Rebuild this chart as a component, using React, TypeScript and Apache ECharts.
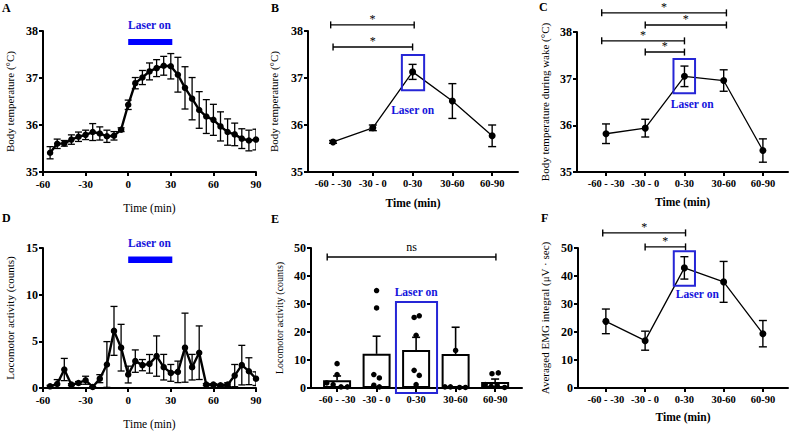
import React, { useEffect, useRef } from 'react';
import * as echarts from 'echarts';

// ---------- data ----------
const TIME = [-55, -50, -45, -40, -35, -30, -25, -20, -15, -10, -5, 0, 5, 10, 15, 20, 25, 30, 35, 40, 45, 50, 55, 60, 65, 70, 75, 80, 85, 90];
const A_TEMP = [35.41, 35.60, 35.61, 35.69, 35.75, 35.79, 35.85, 35.82, 35.76, 35.77, 35.90, 36.43, 36.89, 37.01, 37.14, 37.21, 37.26, 37.25, 37.07, 36.79, 36.56, 36.32, 36.18, 36.11, 35.97, 35.85, 35.80, 35.71, 35.67, 35.69];
const A_SEM = [0.13, 0.10, 0.06, 0.10, 0.10, 0.10, 0.18, 0.14, 0.13, 0.09, 0.04, 0.10, 0.12, 0.15, 0.18, 0.18, 0.20, 0.27, 0.37, 0.45, 0.45, 0.39, 0.36, 0.33, 0.31, 0.28, 0.24, 0.21, 0.22, 0.22];
const D_ACT = [0.18, 0.43, 1.98, 0.36, 0.54, 0.83, 0.11, 1.00, 2.52, 6.12, 4.32, 1.44, 2.88, 2.45, 2.59, 3.42, 2.23, 1.62, 1.73, 4.32, 2.23, 3.78, 0.36, 0.36, 0.29, 0.36, 1.33, 2.45, 1.80, 1.00];
const D_SEM = [0.10, 0.47, 1.19, 0.10, 0.15, 0.43, 0.05, 0.43, 2.45, 2.62, 2.50, 0.90, 1.20, 0.60, 1.00, 2.16, 1.37, 0.90, 1.15, 3.70, 1.37, 2.87, 0.10, 0.10, 0.10, 0.20, 1.19, 2.12, 1.44, 0.73];

const GROUPS = ['-60 - -30', '-30 - 0', '0-30', '30-60', '60-90'];
const B_TEMP = [35.64, 35.94, 37.13, 36.51, 35.77];
const B_SEM = [0.03, 0.06, 0.16, 0.37, 0.23];
const C_TEMP = [35.82, 35.94, 37.05, 36.96, 35.46];
const C_SEM = [0.21, 0.19, 0.22, 0.23, 0.25];
const E_MEAN = [2.8, 12.2, 13.6, 12.1, 2.1];
const E_SEM = [1.5, 6.3, 4.5, 9.6, 1.1];
const E_DOTS = [
  [8.7, 4.8, 1.8, 1.2, 0.4, 0.4],
  [34.8, 28.6, 4.8, 3.6, 1.0, 0.4],
  [25.2, 25.8, 18.8, 6.3, 4.5, 1.2],
  [13.4, 0.4, 0.4, 0.2, 0.2],
  [5.1, 5.4, 1.2, 0.6, 1.0, 0.2],
];
const F_EMG = [23.8, 16.9, 42.9, 37.9, 19.4];
const F_SEM = [4.4, 3.4, 4.0, 7.3, 4.7];

// annotations (data units)
const A_LASER = [0, 30, 37.70, 37.83, 38.13];
const D_LASER = [0, 30, 13.4, 14.1, 15.5];
const B_BRACKETS = [[-0.06, 2.04, 38.13], [0, 2, 37.66]];
const C_BRACKETS = [[-0.11, 3.07, 38.41], [1, 3.07, 38.15], [-0.11, 2, 37.81], [1, 2, 37.57]];
const E_BRACKETS = [[-0.25, 4.02, 46.8]];
const F_BRACKETS = [[-0.08, 2.03, 55.4], [1, 2.03, 50.4]];
const B_BOX = [1.73, 2.29, 36.74, 37.49, 2.0, 36.32];
const C_BOX = [1.72, 2.27, 36.69, 37.42, 2.2, 36.46];
const E_BOX = [1.49, 2.53, -1.8, 30.7, 2.0, 34.3];
const F_BOX = [1.73, 2.27, 36.5, 48.8, 2.33, 33.6];

// jitter pattern for the dots in E (layout only)
const E_JITTER = [
  [0, 0, -0.26, -0.1, 0.1, 0.26],
  [0, 0, -0.07, 0.07, -0.07, 0.07],
  [-0.05, 0.08, 0, -0.05, 0.08, 0],
  [0, -0.27, -0.13, 0.1, 0.25],
  [-0.08, 0.08, -0.25, -0.1, 0.05, 0.24],
];

// ---------- styling ----------
const FONT = "'Liberation Serif', 'Times New Roman', serif";
const BLUE_BAR = '#0000ff';
const BLUE_TEXT = '#1414dc';
const BLUE_BOX = '#2626d6';
const IDX = [0, 1, 2, 3, 4];

const errRender = (cap: number, width: number, upperOnly: boolean) => (params: any, api: any) => {
  const x = api.value(0), y = api.value(1), e = api.value(2);
  const t = api.coord([x, y + e]);
  const b = api.coord([x, upperOnly ? y : y - e]);
  const st = { stroke: '#000', lineWidth: width };
  const kids: any[] = [
    { type: 'line', shape: { x1: t[0], y1: t[1], x2: b[0], y2: b[1] }, style: st },
    { type: 'line', shape: { x1: t[0] - cap, y1: t[1], x2: t[0] + cap, y2: t[1] }, style: st },
  ];
  if (!upperOnly) kids.push({ type: 'line', shape: { x1: b[0] - cap, y1: b[1], x2: b[0] + cap, y2: b[1] }, style: st });
  return { type: 'group', children: kids };
};

const bracketRender = (label: string, fontSize: number, lift: number) => (params: any, api: any) => {
  const y = api.value(2);
  const p1 = api.coord([api.value(0), y]);
  const p2 = api.coord([api.value(1), y]);
  const st = { stroke: '#000', lineWidth: 1.4 };
  return {
    type: 'group',
    children: [
      { type: 'line', shape: { x1: p1[0], y1: p1[1], x2: p2[0], y2: p2[1] }, style: st },
      { type: 'line', shape: { x1: p1[0], y1: p1[1] - 3.5, x2: p1[0], y2: p1[1] + 3.5 }, style: st },
      { type: 'line', shape: { x1: p2[0], y1: p2[1] - 3.5, x2: p2[0], y2: p2[1] + 3.5 }, style: st },
      {
        type: 'text', x: (p1[0] + p2[0]) / 2, y: p1[1] - lift,
        style: { text: label, fill: '#000', fontFamily: FONT, fontSize, align: 'center', verticalAlign: 'middle' },
      },
    ],
  };
};

const boxRender = (params: any, api: any) => {
  const a = api.coord([api.value(0), api.value(3)]);
  const b = api.coord([api.value(1), api.value(2)]);
  const t = api.coord([api.value(4), api.value(5)]);
  return {
    type: 'group',
    children: [
      { type: 'rect', shape: { x: a[0], y: a[1], width: b[0] - a[0], height: b[1] - a[1] }, style: { fill: 'none', stroke: BLUE_BOX, lineWidth: 2 } },
      { type: 'text', x: t[0], y: t[1], style: { text: 'Laser on', fill: BLUE_TEXT, fontFamily: FONT, fontWeight: 'bold', fontSize: 11.5, align: 'center', verticalAlign: 'middle' } },
    ],
  };
};

const laserRender = (params: any, api: any) => {
  const a = api.coord([api.value(0), api.value(3)]);
  const b = api.coord([api.value(1), api.value(2)]);
  const t = api.coord([(api.value(0) + api.value(1)) / 2, api.value(4)]);
  return {
    type: 'group',
    children: [
      { type: 'rect', shape: { x: a[0], y: a[1], width: b[0] - a[0] + 1.5, height: b[1] - a[1] }, style: { fill: BLUE_BAR } },
      { type: 'text', x: t[0], y: t[1], style: { text: 'Laser on', fill: BLUE_TEXT, fontFamily: FONT, fontWeight: 'bold', fontSize: 11.5, align: 'center', verticalAlign: 'middle' } },
    ],
  };
};

const axisLine = { show: true, onZero: false, lineStyle: { color: '#000', width: 2 } };
const axisTick = { show: true, length: 4, lineStyle: { color: '#000', width: 2 } };
const tickLabel = { color: '#000', fontFamily: FONT, fontWeight: 'bold' as const, fontSize: 12 };

function timeX(grid: number) {
  return {
    type: 'value', gridIndex: grid, min: -60, max: 90, interval: 30,
    name: 'Time (min)', nameLocation: 'middle', nameGap: 30,
    nameTextStyle: { color: '#000', fontFamily: FONT, fontSize: 11.5 },
    axisLine, axisTick, splitLine: { show: false },
    axisLabel: { ...tickLabel, fontSize: 11, margin: 6 },
  };
}

function groupX(grid: number, min: number, max: number, withName: boolean, nameGap: number) {
  return {
    type: 'value', gridIndex: grid, min, max,
    name: withName ? 'Time (min)' : '', nameLocation: 'middle', nameGap,
    nameTextStyle: { color: '#000', fontFamily: FONT, fontSize: 11.5, fontWeight: 'bold' },
    axisLine, splitLine: { show: false },
    axisTick: { ...axisTick, customValues: IDX },
    axisLabel: { ...tickLabel, fontSize: 10.5, margin: 6, customValues: IDX, formatter: (v: number) => GROUPS[Math.round(v)] },
  };
}

function yAx(grid: number, min: number, max: number, interval: number, name: string, nameGap: number, nameSize: number) {
  return {
    type: 'value', gridIndex: grid, min, max, interval,
    name, nameLocation: 'middle', nameRotate: 90, nameGap,
    nameTextStyle: { color: '#000', fontFamily: FONT, fontSize: nameSize },
    axisLine, axisTick, splitLine: { show: false },
    axisLabel: { ...tickLabel, margin: 5 },
  };
}

function pointLine(ax: number, data: number[][], width: number, size: number) {
  return {
    type: 'line', xAxisIndex: ax, yAxisIndex: ax, data,
    symbol: 'circle', symbolSize: size, showSymbol: true,
    lineStyle: { color: '#000', width }, itemStyle: { color: '#000', opacity: 1 }, z: 4,
  };
}

function errSeries(ax: number, data: number[][], cap: number, width: number, upperOnly = false) {
  return { type: 'custom', xAxisIndex: ax, yAxisIndex: ax, data, renderItem: errRender(cap, width, upperOnly), clip: true, z: 3 };
}

function annSeries(ax: number, data: number[][], render: any) {
  return { type: 'custom', xAxisIndex: ax, yAxisIndex: ax, data, renderItem: render, clip: false, z: 5, silent: true };
}

function letter(text: string, left: number, top: number) {
  return { type: 'text', left, top, style: { text, fill: '#000', fontFamily: FONT, fontWeight: 'bold', fontSize: 12 } };
}

export default function App() {
  const ref = useRef<HTMLDivElement>(null);
  useEffect(() => {
    if (!ref.current) return;
    const chart = echarts.init(ref.current, undefined, { renderer: 'svg' });

    const aLine = TIME.map((t, i) => [t, A_TEMP[i]]);
    const aErr = TIME.map((t, i) => [t, A_TEMP[i], A_SEM[i]]);
    const dLine = TIME.map((t, i) => [t, D_ACT[i]]);
    const dErr = TIME.map((t, i) => [t, D_ACT[i], D_SEM[i]]);
    const bLine = IDX.map((i) => [i, B_TEMP[i]]);
    const bErr = IDX.map((i) => [i, B_TEMP[i], B_SEM[i]]);
    const cLine = IDX.map((i) => [i, C_TEMP[i]]);
    const cErr = IDX.map((i) => [i, C_TEMP[i], C_SEM[i]]);
    const eBars = IDX.map((i) => [i, E_MEAN[i]]);
    const eErr = IDX.map((i) => [i, E_MEAN[i], E_SEM[i]]);
    const eDots: number[][] = [];
    E_DOTS.forEach((vals, g) => vals.forEach((v, k) => eDots.push([g + E_JITTER[g][k], v])));
    const fLine = IDX.map((i) => [i, F_EMG[i]]);
    const fErr = IDX.map((i) => [i, F_EMG[i], F_SEM[i]]);

    chart.setOption({
      animation: false,
      backgroundColor: '#fff',
      textStyle: { fontFamily: FONT },
      grid: [
        { left: 43, top: 31, width: 213, height: 141 },
        { left: 308, top: 31, width: 210, height: 141 },
        { left: 577, top: 32, width: 211, height: 140 },
        { left: 43, top: 248, width: 213, height: 140 },
        { left: 311, top: 248, width: 211, height: 140 },
        { left: 578, top: 248, width: 210, height: 140 },
      ],
      xAxis: [
        timeX(0),
        groupX(1, -0.63, 4.65, true, 25),
        groupX(2, -0.74, 4.64, true, 24),
        timeX(3),
        groupX(4, -0.66, 4.68, false, 24),
        groupX(5, -0.71, 4.64, true, 23),
      ],
      yAxis: [
        yAx(0, 35, 38, 1, 'Body temperature (°C)', 28, 11),
        yAx(1, 35, 38, 1, 'Body temperature (°C)', 29, 11),
        yAx(2, 35, 38, 1, 'Body temperature during wake (°C)', 27, 11),
        yAx(3, 0, 15, 5, 'Locomotor activity (counts)', 28, 11),
        yAx(4, 0, 50, 10, 'Locomotor activity (counts)', 27, 10),
        yAx(5, 0, 50, 10, 'Averaged EMG integral (μV · sec)', 28, 11),
      ],
      graphic: [
        letter('A', 2, 2),
        letter('B', 271, 2),
        letter('C', 539, 1),
        letter('D', 2, 212),
        letter('E', 271, 213),
        letter('F', 541, 212),
      ],
      series: [
        // A
        errSeries(0, aErr, 3.5, 1.3),
        pointLine(0, aLine, 2.4, 6.5),
        annSeries(0, [A_LASER], laserRender),
        // B
        errSeries(1, bErr, 4, 1.4),
        pointLine(1, bLine, 1.3, 7),
        annSeries(1, B_BRACKETS, bracketRender('*', 12, 6)),
        annSeries(1, [B_BOX], boxRender),
        // C
        errSeries(2, cErr, 4, 1.4),
        pointLine(2, cLine, 1.3, 7),
        annSeries(2, C_BRACKETS, bracketRender('*', 12, 6)),
        annSeries(2, [C_BOX], boxRender),
        // D
        errSeries(3, dErr, 3.5, 1.3),
        pointLine(3, dLine, 2.4, 6.5),
        annSeries(3, [D_LASER], laserRender),
        // E
        {
          type: 'bar', xAxisIndex: 4, yAxisIndex: 4, data: eBars, barWidth: 28,
          itemStyle: { color: '#fff', borderColor: '#000', borderWidth: 2 }, z: 2,
        },
        errSeries(4, eErr, 4, 1.6, true),
        {
          type: 'scatter', xAxisIndex: 4, yAxisIndex: 4, data: eDots, symbol: 'circle', symbolSize: 5.5,
          itemStyle: { color: '#000', opacity: 1 }, z: 4,
        },
        annSeries(4, E_BRACKETS, bracketRender('ns', 12, 10)),
        annSeries(4, [E_BOX], boxRender),
        // F
        errSeries(5, fErr, 4, 1.4),
        pointLine(5, fLine, 1.3, 7),
        annSeries(5, F_BRACKETS, bracketRender('*', 12, 6)),
        annSeries(5, [F_BOX], boxRender),
      ],
    });
    return () => chart.dispose();
  }, []);
  return <div ref={ref} style={{ position: 'fixed', left: 0, top: 0, width: 790, height: 433, background: '#fff' }} />;
}
